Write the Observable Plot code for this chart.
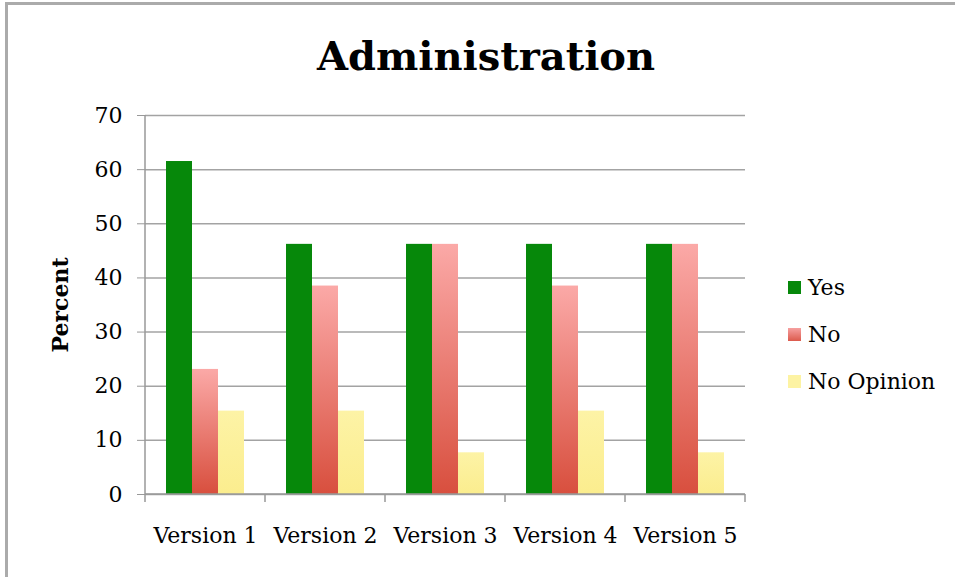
<!DOCTYPE html>
<html><head><meta charset="utf-8">
<script src="https://cdn.jsdelivr.net/npm/d3@7"></script>
<script src="https://cdn.jsdelivr.net/npm/@observablehq/plot@0.6"></script>
<style>
body{margin:0;background:#fff;}
#wrap{position:relative;width:955px;height:577px;overflow:hidden;font-family:"DejaVu Serif",serif;background:#fff;}
#border{position:absolute;left:5px;top:2px;width:1000px;height:700px;border-top:3px solid #ababab;border-left:3px solid #ababab;}
#title{position:absolute;left:486px;top:32px;transform:translateX(-50%);white-space:nowrap;font-weight:bold;font-size:40px;color:#000;}
#chart{position:absolute;left:0;top:0;}
#legend{position:absolute;left:788px;top:264px;}
.item{display:flex;align-items:center;height:47px;font-size:22px;color:#000;}
.sw{width:13px;height:13px;margin-right:7px;}
</style>
</head><body>
<div id="wrap">
  <div id="border"></div>
  <div id="chart"></div>
  <div id="title"></div>
  <div id="legend"></div>
</div>
<script>
const title = "Administration";
const yLabel = "Percent";
const versions = ["Version 1", "Version 2", "Version 3", "Version 4", "Version 5"];
const responses = ["Yes", "No", "No Opinion"];
const yes = [61.5, 46.2, 46.2, 46.2, 46.2];
const no = [23.1, 38.5, 46.2, 38.5, 46.2];
const noOpinion = [15.4, 15.4, 7.7, 15.4, 7.7];
const yTicks = [0, 10, 20, 30, 40, 50, 60, 70];
const fills = ["#06880a", "url(#gNo)", "url(#gNoOp)"];
const swatches = ["#06880a", "linear-gradient(#f6a0a0,#dc5a4c)", "#fdf3a3"];

const series = [yes, no, noOpinion];
const rows = versions.flatMap((v, i) => responses.map((r, j) => ({version: v, response: r, value: series[j][i]})));

const chart = Plot.plot({
  width: 955,
  height: 577,
  marginLeft: 145,
  marginRight: 210,
  marginTop: 115,
  marginBottom: 83,
  style: {fontFamily: "DejaVu Serif", fontSize: "22px", background: "transparent", color: "#000"},
  fx: {domain: versions, padding: 0, label: null},
  x: {domain: responses, paddingInner: 0, paddingOuter: 0.75, axis: null},
  y: {domain: [0, 70], label: null},
  color: {domain: responses, range: fills},
  marks: [
    Plot.gridY(yTicks, {stroke: "#a3a3a3", strokeOpacity: 1, strokeWidth: 1.5}),
    Plot.barY(rows, {fx: "version", x: "response", y: "value", fill: "response"}),
    Plot.axisY(yTicks, {tickSize: 8, tickPadding: 15, fontSize: 22, label: null, stroke: "#999", fill: "#000"}),
    Plot.axisFx({anchor: "bottom", tickSize: 0, tickPadding: 33, fontSize: 22, label: null, fill: "#000"}),
    Plot.text([yLabel], {fx: () => versions[0], frameAnchor: "left", textAnchor: "middle", rotate: -90, dx: -85, fontWeight: "bold", fontSize: 22, fill: "#000"})
  ]
});

const svg = d3.select(chart);
const defs = svg.insert("defs", ":first-child");
const g1 = defs.append("linearGradient").attr("id", "gNo").attr("x1", 0).attr("y1", 0).attr("x2", 0).attr("y2", 1);
g1.append("stop").attr("offset", "0%").attr("stop-color", "#fba9a7");
g1.append("stop").attr("offset", "100%").attr("stop-color", "#d84f3e");
const g2 = defs.append("linearGradient").attr("id", "gNoOp").attr("x1", 0).attr("y1", 0).attr("x2", 0).attr("y2", 1);
g2.append("stop").attr("offset", "0%").attr("stop-color", "#fdf3a6");
g2.append("stop").attr("offset", "100%").attr("stop-color", "#fbed8e");

// axis lines and category boundary ticks from the library's scales
const fx = chart.scale("fx"), y = chart.scale("y");
const y0 = y.apply(0), yTop = y.apply(yTicks[yTicks.length - 1]);
const left = fx.apply(versions[0]);
const right = fx.apply(versions[versions.length - 1]) + fx.bandwidth;
const axes = svg.append("g").attr("stroke", "#999").attr("stroke-width", 1.5);
axes.append("line").attr("x1", left).attr("x2", left).attr("y1", yTop).attr("y2", y0);
axes.append("line").attr("x1", left).attr("x2", right).attr("y1", y0).attr("y2", y0);
versions.forEach(v => {
  const xv = fx.apply(v);
  axes.append("line").attr("x1", xv).attr("x2", xv).attr("y1", y0).attr("y2", y0 + 8);
});
axes.append("line").attr("x1", right).attr("x2", right).attr("y1", y0).attr("y2", y0 + 8);

document.getElementById("chart").appendChild(chart);
document.getElementById("title").textContent = title;
const legend = d3.select("#legend");
responses.forEach((r, i) => {
  const it = legend.append("div").attr("class", "item");
  it.append("div").attr("class", "sw").style("background", swatches[i]);
  it.append("span").text(r);
});
</script>
</body></html>
